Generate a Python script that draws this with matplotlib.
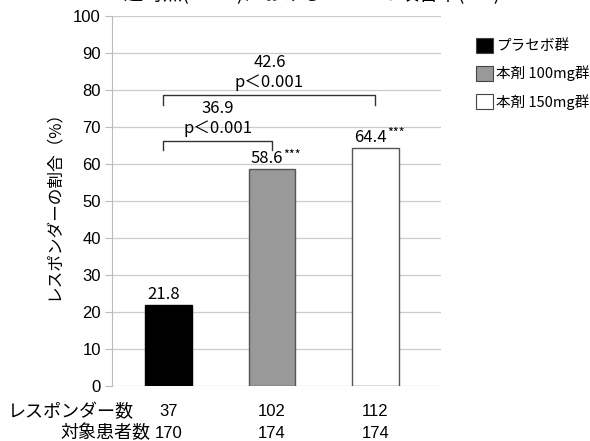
import numpy as np
import matplotlib
matplotlib.use("Agg")
import matplotlib.pyplot as plt
from matplotlib.patches import Patch

plt.rcParams['font.family'] = ['Noto Sans CJK JP', 'DejaVu Sans']
narrow = ['Liberation Sans Narrow', 'Liberation Sans', 'Noto Sans CJK JP']

groups = ["プラセボ群", "本剤 100mg群", "本剤 150mg群"]
rates = [21.8, 58.6, 64.4]
marks = ["", "***", "***"]
responders = [37, 102, 112]
patients = [170, 174, 174]
colors = ["black", "#999999", "white"]
yticks = [0, 10, 20, 30, 40, 50, 60, 70, 80, 90, 100]

# differences vs placebo
diffs = [("36.9", "p＜0.001", 0, 1, 66.2, 63.8),
         ("42.6", "p＜0.001", 0, 2, 78.6, 75.9)]

fig = plt.figure(figsize=(5.9, 4.41), dpi=100)
ax = fig.add_axes([112 / 590, 55 / 441, 329 / 590, 370 / 441])

x = np.arange(len(rates))
ax.bar(x, rates, width=0.45, color=colors, edgecolor=["black", "#555555", "#555555"],
       linewidth=1.0, zorder=3)

ax.set_xlim(-0.546, 2.633)
ax.set_ylim(0, 100)
ax.set_yticks(yticks)
ax.set_xticks([])
ax.tick_params(axis='y', labelsize=12, length=5, color="#bbbbbb", pad=3)
for lab in ax.get_yticklabels():
    lab.set_family(narrow)
ax.yaxis.grid(True, color="#cccccc", linewidth=0.9, zorder=0)
for s in ["top", "right", "bottom"]:
    ax.spines[s].set_visible(False)
ax.spines["left"].set_color("#bbbbbb")
ax.set_ylabel("レスポンダーの割合（%）", fontsize=12, labelpad=8)

# value labels
for xi, v, m in zip(x, rates, marks):
    ax.text(xi + 0.11, v + 0.5, f"{v}", ha="right", va="bottom", fontsize=12)
    if m:
        ax.text(xi + 0.11, v + 2.0, m, ha="left", va="bottom", fontsize=9)

# brackets
for d, p, i, j, yh, yl in diffs:
    xi, xj = x[i] - 0.05, x[j]
    ax.plot([xi, xi, xj, xj], [yl, yh, yh, yl], color="#333333", lw=1.0, zorder=4,
            clip_on=False)
    xm = (xi + xj) / 2
    ax.text(xm, yh + 1.0, p, ha="center", va="bottom", fontsize=12)
    ax.text(xm, yh + 6.6, d, ha="center", va="bottom", fontsize=12)

# legend
handles = [Patch(facecolor=c, edgecolor="#444444", linewidth=0.8) for c in colors]
fig.legend(handles, groups, loc="upper left", bbox_to_anchor=(470 / 590, 1 - 32 / 441),
           frameon=False, fontsize=10.5, handlelength=1.2, handleheight=1.2,
           handletextpad=0.2, labelspacing=0.85, borderaxespad=0)

# counts under the bars
row_y = [412, 433]
fig.text(134 / 590, 1 - row_y[0] / 441, "レスポンダー数", ha="right", va="center", fontsize=13)
fig.text(150 / 590, 1 - row_y[1] / 441, "対象患者数", ha="right", va="center", fontsize=13)
for xi, r, n in zip(x, responders, patients):
    xf = fig.transFigure.inverted().transform(ax.transData.transform((xi, 0)))[0]
    fig.text(xf, 1 - row_y[0] / 441, str(r), ha="center", va="center", fontsize=12,
             family=narrow)
    fig.text(xf, 1 - row_y[1] / 441, str(n), ha="center", va="center", fontsize=12,
             family=narrow)

fig.text(0.51, 1.012, "12週時点(LOCF)におけるACR20の改善率(ITT)", ha="center",
         va="center", fontsize=14)

fig.savefig("out.png", dpi=100)
